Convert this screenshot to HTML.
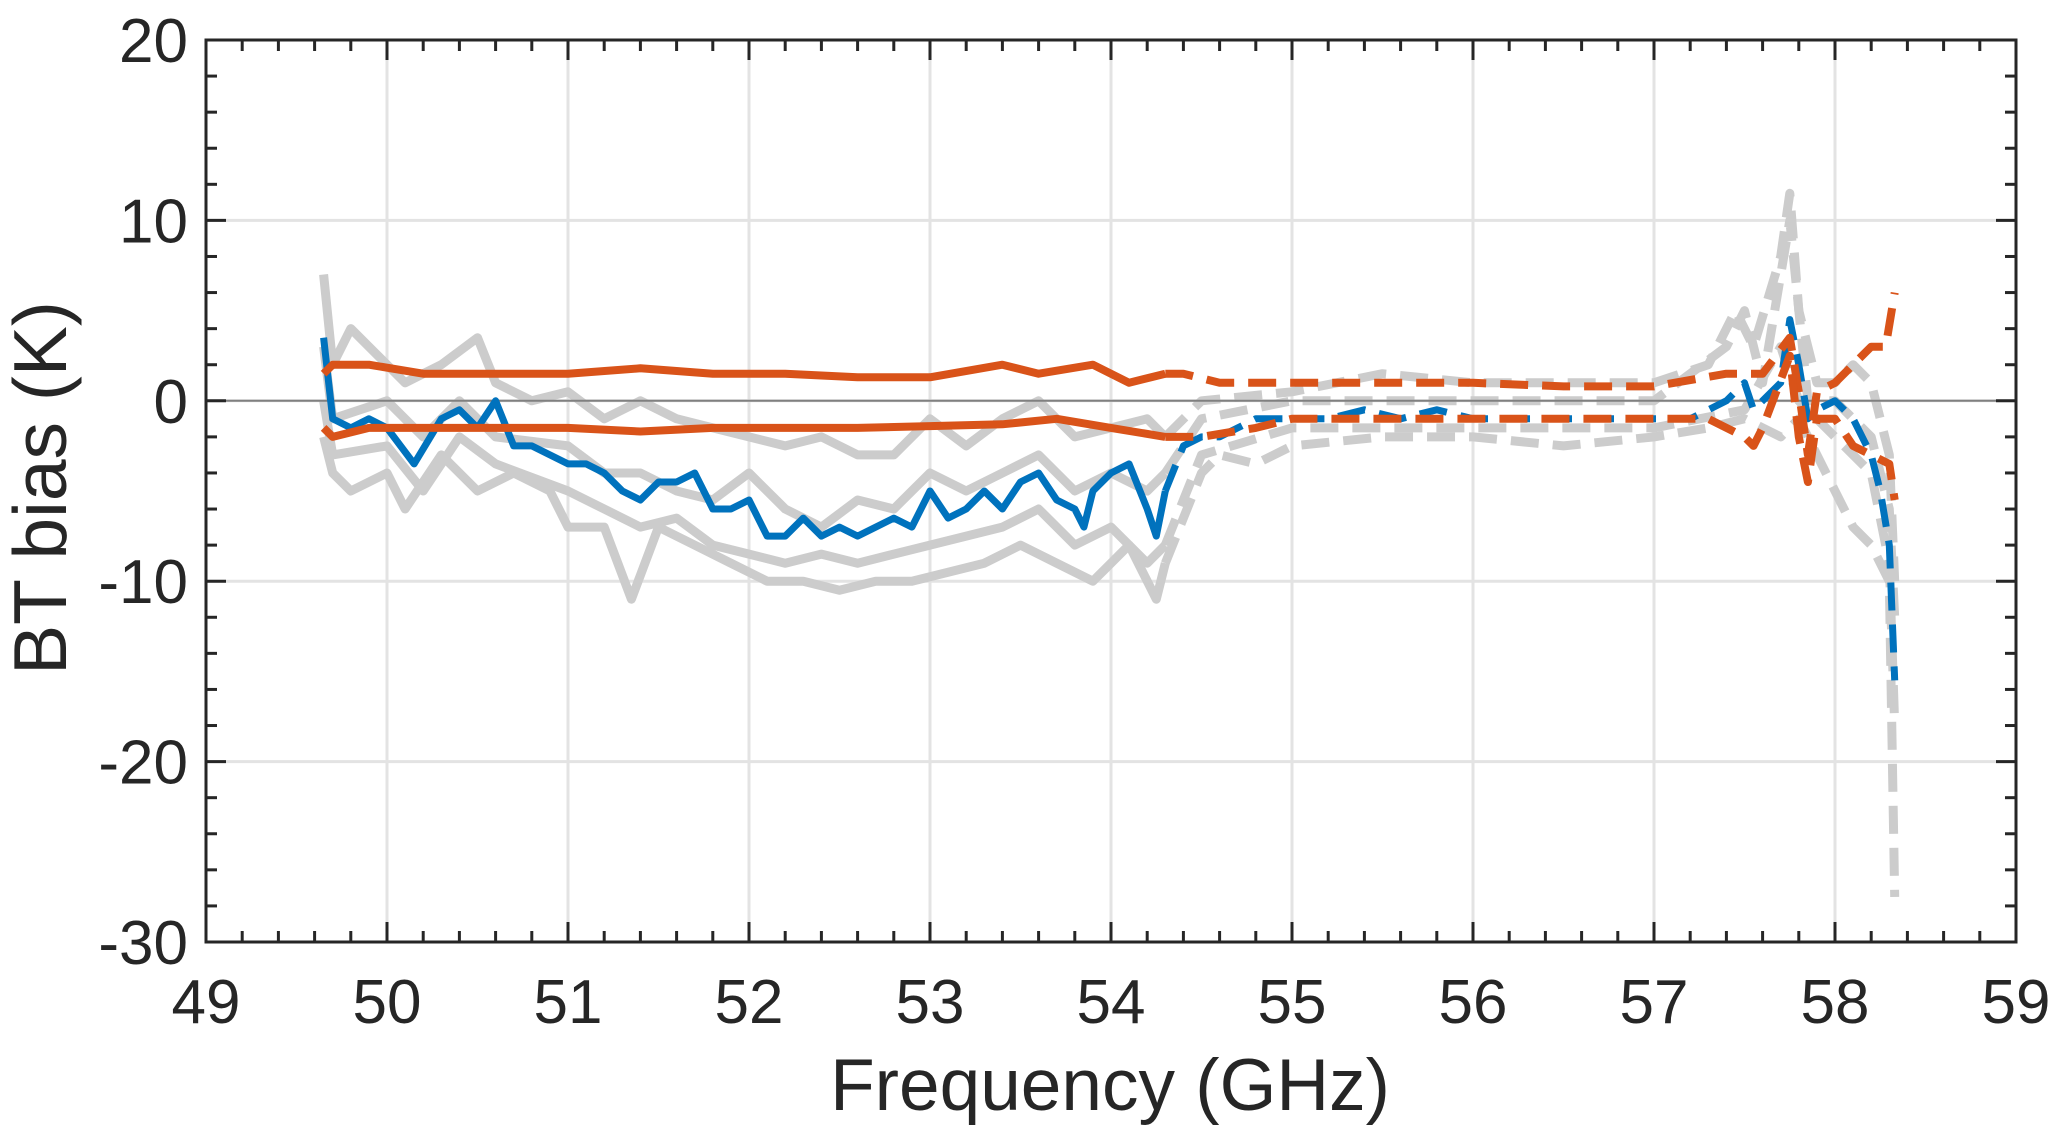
<!DOCTYPE html>
<html><head><meta charset="utf-8"><style>
html,body{margin:0;padding:0;background:#fff;}
svg{display:block;font-family:"Liberation Sans",Arial,sans-serif;}
</style></head><body>
<svg id="chart" width="2067" height="1136" viewBox="0 0 2067 1136" xmlns="http://www.w3.org/2000/svg">
<rect width="2067" height="1136" fill="#fff"/>
<g id="grid"></g>
<g id="series"></g>
<g id="axes"></g>
<text x="1110" y="1110" font-size="73" text-anchor="middle" fill="#262626">Frequency (GHz)</text>
<text transform="translate(66,488) rotate(-90)" font-size="75" text-anchor="middle" fill="#262626">BT bias (K)</text>
</svg>
<script>
const xTicks=[49,50,51,52,53,54,55,56,57,58,59];
const yTicks=[20,10,0,-10,-20,-30];
const split=54.3;
const g1x=[49.65,49.7,49.8,49.9,50.0,50.1,50.3,50.5,50.6,50.8,51.0,51.2,51.4,51.6,51.8,52.0,52.2,52.4,52.6,52.8,53.0,53.2,53.4,53.6,53.8,54.0,54.2,54.3,54.5,55,55.5,56,56.5,57,57.3,57.45,57.55,57.7,57.75,57.8,57.9,58.0,58.1,58.2,58.3,58.33];
const g1y=[7,2,4,3,2,1,2,3.5,1,0,0.5,-1,0,-1,-1.5,-2,-2.5,-2,-3,-3,-1,-2.5,-1,0,-2,-1.5,-1,-2,0,0.5,1.5,1,1,1,2,5,3,8,11.5,5,1,1,2,1,-3,-10];
const g2x=[49.65,49.7,49.8,50.0,50.1,50.3,50.5,50.7,50.9,51.0,51.2,51.35,51.5,51.7,51.9,52.1,52.3,52.5,52.7,52.9,53.1,53.3,53.5,53.7,53.9,54.0,54.1,54.25,54.3,54.5,54.6,54.8,55,55.5,56,56.5,57,57.3,57.5,57.7,57.8,57.9,58.0,58.1,58.2,58.3,58.33];
const g2y=[-2,-4,-5,-4,-6,-3,-5,-4,-5,-7,-7,-11,-7,-8,-9,-10,-10,-10.5,-10,-10,-9.5,-9,-8,-9,-10,-9,-8,-11,-9,-4,-3,-3.5,-2.5,-2,-2,-2.5,-2,-1.5,-1,-2,-1,-3,-5,-7,-8,-10,-27.5];
const g3x=[49.65,49.7,50.0,50.2,50.4,50.6,51.0,51.2,51.4,51.6,51.8,52,52.2,52.4,52.6,52.8,53.0,53.2,53.4,53.6,53.8,54,54.2,54.3,54.5,55,55.5,56,57,57.4,57.5,57.6,57.75,57.85,58,58.2,58.3,58.33];
const g3y=[3,-1,0,-2,0,-2,-2.5,-4,-4,-5,-5.5,-4,-6,-7,-5.5,-6,-4,-5,-4,-3,-5,-4,-5,-4,-1,0,0,0,0,3,5,1,10,0,0,-2,-6,-12];
const g4x=[49.65,49.7,50,50.2,50.4,50.6,51,51.2,51.4,51.6,51.8,52,52.2,52.4,52.6,52.8,53,53.2,53.4,53.6,53.8,54.0,54.2,54.3,54.5,55,55.5,56,57,57.5,57.7,57.8,58,58.2,58.3,58.33];
const g4y=[0,-3,-2.5,-5,-2,-3.5,-5,-6,-7,-6.5,-8,-8.5,-9,-8.5,-9,-8.5,-8,-7.5,-7,-6,-8,-7,-9,-8,-3,-1.5,-1.5,-1.5,-1.5,-0.5,3,0,-2,-4,-9,-18];
const bx=[49.65,49.7,49.8,49.9,50.0,50.15,50.3,50.4,50.5,50.6,50.7,50.8,50.9,51.0,51.1,51.2,51.3,51.4,51.5,51.6,51.7,51.8,51.9,52.0,52.1,52.2,52.3,52.4,52.5,52.6,52.7,52.8,52.9,53.0,53.1,53.2,53.3,53.4,53.5,53.6,53.7,53.8,53.85,53.9,54.0,54.1,54.2,54.25,54.3,54.4,54.5,54.6,54.7,54.8,55.0,55.2,55.4,55.6,55.8,56.0,56.2,56.4,56.6,56.8,57.0,57.2,57.3,57.4,57.5,57.55,57.6,57.7,57.75,57.8,57.85,57.9,58.0,58.1,58.2,58.25,58.3,58.33];
const by=[3.5,-1,-1.5,-1,-1.5,-3.5,-1,-0.5,-1.5,0,-2.5,-2.5,-3,-3.5,-3.5,-4,-5,-5.5,-4.5,-4.5,-4,-6,-6,-5.5,-7.5,-7.5,-6.5,-7.5,-7,-7.5,-7,-6.5,-7,-5,-6.5,-6,-5,-6,-4.5,-4,-5.5,-6,-7,-5,-4,-3.5,-6,-7.5,-5,-2.5,-2,-2,-1.5,-1,-1,-1,-0.5,-1,-0.5,-1,-1,-1,-1,-1,-1,-1,-0.5,0,1,-0.5,0,1,4.5,2,-1,-0.5,0,-1,-3,-5,-8,-15.5];
const oux=[49.65,49.7,49.9,50.2,50.5,51.0,51.4,51.8,52.2,52.6,53.0,53.4,53.6,53.9,54.1,54.3,54.4,54.6,55.0,55.5,56.0,56.5,57.0,57.4,57.6,57.75,57.8,57.85,57.9,58.0,58.1,58.2,58.28,58.33];
const ouy=[1.5,2,2,1.5,1.5,1.5,1.8,1.5,1.5,1.3,1.3,2,1.5,2,1,1.5,1.5,1,1,1,1,0.8,0.8,1.5,1.5,3.5,0.5,-3,0.5,1,2,3,3,6];
const olx=[49.65,49.7,49.9,50.2,50.5,51.0,51.4,51.8,52.2,52.6,53.0,53.4,53.7,54.0,54.3,54.5,54.8,55,56,57,57.3,57.5,57.55,57.6,57.75,57.8,57.85,57.9,58.0,58.1,58.2,58.3,58.33];
const oly=[-1.5,-2,-1.5,-1.5,-1.5,-1.5,-1.7,-1.5,-1.5,-1.5,-1.4,-1.3,-1,-1.5,-2,-2,-1.5,-1,-1,-1,-1,-2,-2.5,-1.5,2.5,-2,-4.5,-1,-1,-2.5,-3,-3.5,-5.5];

const L=206,R=2016,T=40,B=942;
const xs=v=>L+(v-49)/10*(R-L);
const ys=v=>T+(20-v)/50*(B-T);
const NS="http://www.w3.org/2000/svg";
const grid=document.getElementById('grid'),axes=document.getElementById('axes'),ser=document.getElementById('series');
function mk(tag,attrs,parent){const e=document.createElementNS(NS,tag);for(const k in attrs)e.setAttribute(k,attrs[k]);parent.appendChild(e);return e;}
xTicks.forEach(t=>{if(t>49&&t<59){const l=mk('line',{x1:xs(t),x2:xs(t),y1:T,y2:B,stroke:'#e3e3e3','stroke-width':3},grid);

}});
yTicks.forEach(t=>{if(t<20&&t>-30){const l=mk('line',{x1:L,x2:R,y1:ys(t),y2:ys(t),stroke:'#e3e3e3','stroke-width':3},grid);

}});
function draw(x,y,color,w,name){
  let solid=[],dash=[];
  for(let i=0;i<x.length;i++){const p=xs(x[i]).toFixed(1)+','+ys(y[i]).toFixed(1);if(x[i]<=split)solid.push(p);if(x[i]>=split)dash.push(p);}
  const a=mk('polyline',{points:solid.join(' '),fill:'none',stroke:color,'stroke-width':w,'stroke-linejoin':'round'},ser);
  
  
  const b=mk('polyline',{points:dash.join(' '),fill:'none',stroke:color,'stroke-width':w,'stroke-dasharray':'28,14','stroke-linejoin':'round'},ser);
  
  
}
draw(g1x,g1y,'#cccccc',9,'gray-series-1');
draw(g2x,g2y,'#cccccc',9,'gray-series-2');
draw(g3x,g3y,'#cccccc',9,'gray-series-3');
draw(g4x,g4y,'#cccccc',9,'gray-series-4');
const z=mk('line',{x1:L,x2:R,y1:ys(0),y2:ys(0),stroke:'#808080','stroke-width':2},ser);


draw(bx,by,'#0072bd',7,'blue-mean-bias');
draw(oux,ouy,'#d95319',8,'orange-upper-bound');
draw(olx,oly,'#d95319',8,'orange-lower-bound');
const box=mk('rect',{x:L,y:T,width:R-L,height:B-T,fill:'none',stroke:'#262626','stroke-width':3},axes);


for(let v=49;v<=59.001;v+=0.2){const maj=Math.abs(v-Math.round(v))<1e-6;const len=maj?20:11;const x=xs(v);
 mk('line',{x1:x,x2:x,y1:B,y2:B-len,stroke:'#262626','stroke-width':3},axes);
 mk('line',{x1:x,x2:x,y1:T,y2:T+len,stroke:'#262626','stroke-width':3},axes);}
for(let v=-30;v<=20;v+=2){const maj=v%10===0;const len=maj?20:11;const y=ys(v);
 mk('line',{x1:L,x2:L+len,y1:y,y2:y,stroke:'#262626','stroke-width':3},axes);
 mk('line',{x1:R,x2:R-len,y1:y,y2:y,stroke:'#262626','stroke-width':3},axes);}
xTicks.forEach(t=>{const e=mk('text',{x:xs(t),y:1023,'font-size':62,'text-anchor':'middle',fill:'#262626'},axes);e.textContent=t;

});
yTicks.forEach(t=>{const e=mk('text',{x:188,y:ys(t)+22,'font-size':62,'text-anchor':'end',fill:'#262626'},axes);e.textContent=t;

});
</script>
</body></html>
